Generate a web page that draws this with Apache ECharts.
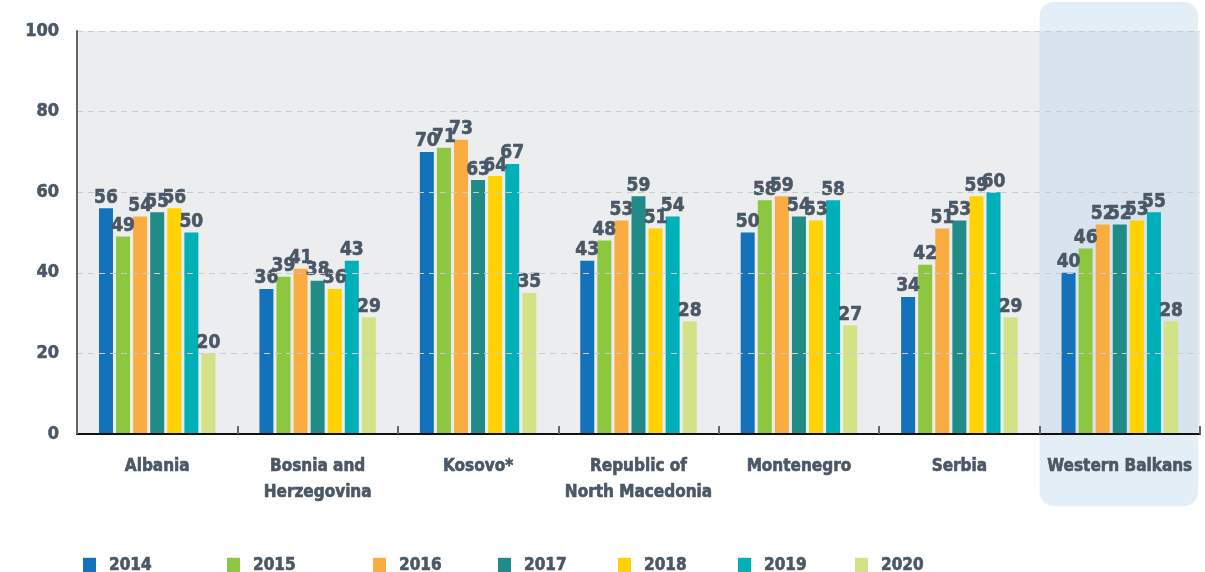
<!DOCTYPE html>
<html>
<head>
<meta charset="utf-8">
<script src="https://cdn.jsdelivr.net/npm/echarts@6/dist/echarts.min.js"></script>
<style>
  html, body { margin: 0; padding: 0; background: #fff; }
  #chart { width: 1205px; height: 572px; }
</style>
</head>
<body>
<div id="chart"></div>
<script>
  const categories = ['Albania', 'Bosnia and\nHerzegovina', 'Kosovo*', 'Republic of\nNorth Macedonia', 'Montenegro', 'Serbia', 'Western Balkans'];
  const years = ['2014', '2015', '2016', '2017', '2018', '2019', '2020'];
  const v2014 = [56, 36, 70, 43, 50, 34, 40];
  const v2015 = [49, 39, 71, 48, 58, 42, 46];
  const v2016 = [54, 41, 73, 53, 59, 51, 52];
  const v2017 = [55, 38, 63, 59, 54, 53, 52];
  const v2018 = [56, 36, 64, 51, 53, 59, 53];
  const v2019 = [50, 43, 67, 54, 58, 60, 55];
  const v2020 = [20, 29, 35, 28, 27, 29, 28];
  const yearColors = ['#1372b9', '#8dc63f', '#f9ac40', '#218b87', '#ffd200', '#00b0b9', '#d4e287'];
  const legendLefts = [78, 222, 368, 493, 613, 733, 850];

  const font = '"DejaVu Sans Condensed", "Liberation Sans Narrow", sans-serif';
  const textColor = '#4a5866';
  const allValues = [v2014, v2015, v2016, v2017, v2018, v2019, v2020];

  // bold text, thickened a little with a same-colour outline
  function boldText(size) {
    return {
      color: textColor, fontFamily: font, fontWeight: 'bold', fontSize: size,
      textBorderColor: textColor, textBorderWidth: 0.6
    };
  }

  const chart = echarts.init(document.getElementById('chart'));

  const series = years.map((y, i) => ({
    name: y,
    type: 'bar',
    data: allValues[i],
    barWidth: 14,
    barGap: '22%',
    itemStyle: { color: yearColors[i] },
    label: Object.assign({ show: true, position: 'top', distance: 1 }, boldText(19)),
    z: 3
  }));

  const legends = years.map((y, i) => ({
    data: [y],
    left: legendLefts[i],
    top: 552,
    itemWidth: 13,
    itemHeight: 16,
    itemGap: 0,
    icon: 'rect',
    selectedMode: false,
    textStyle: Object.assign(boldText(17), { padding: [0, 0, 0, 8] })
  }));

  chart.setOption({
    animation: false,
    backgroundColor: '#fff',
    grid: { left: 77, right: 5, top: 31, bottom: 138, show: true, backgroundColor: '#ecedef', borderWidth: 0 },
    legend: legends,
    xAxis: {
      type: 'category',
      data: categories,
      z: 5,
      axisLine: { lineStyle: { color: '#111', width: 2 } },
      axisTick: { show: true, inside: true, length: 8, lineStyle: { color: '#666', width: 2 } },
      axisLabel: Object.assign({ interval: 0, lineHeight: 26, margin: 20 }, boldText(17))
    },
    yAxis: {
      type: 'value',
      min: 0, max: 100, interval: 20,
      z: 5,
      axisLine: { show: true, lineStyle: { color: '#666', width: 2 } },
      axisTick: { show: false },
      axisLabel: Object.assign({ margin: 18 }, boldText(18)),
      splitLine: { show: true, lineStyle: { color: '#c9cbce', type: [6, 5], width: 1 } }
    },
    series: series
  });

  // highlight box behind the last category, placed from the axis scale
  const last = categories.length - 1;
  const cx = chart.convertToPixel({ xAxisIndex: 0 }, last);
  const prev = chart.convertToPixel({ xAxisIndex: 0 }, last - 1);
  const half = (cx - prev) / 2;
  chart.setOption({
    graphic: [{
      type: 'rect',
      z: 1,
      silent: true,
      shape: { x: cx - half, y: 2, width: half * 2 - 2, height: 504, r: 14 },
      style: { fill: 'rgba(190, 215, 235, 0.42)' }
    }]
  });
</script>
</body>
</html>
